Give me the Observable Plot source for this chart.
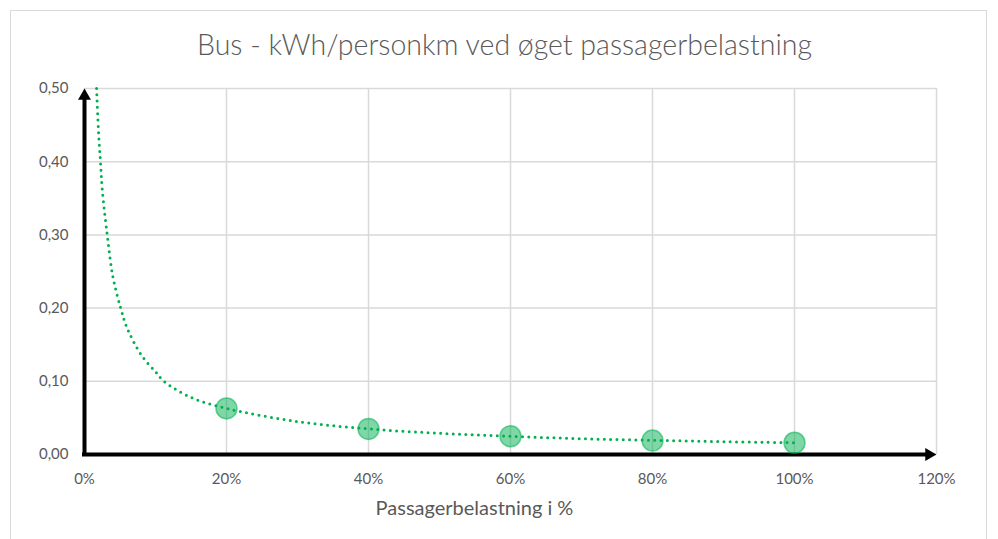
<!DOCTYPE html>
<html><head><meta charset="utf-8">
<script src="https://cdn.jsdelivr.net/npm/d3@7"></script>
<script src="https://cdn.jsdelivr.net/npm/@observablehq/plot@0.6"></script>
<style>
body{margin:0;background:#fff;}
#wrap{position:relative;width:998px;height:539px;overflow:hidden;}
#border{position:absolute;left:10px;top:10px;width:975px;height:600px;border:1.5px solid #d9d9d9;}
#chart{position:absolute;left:0;top:0;}
</style></head><body>
<div id="wrap"><div id="border"></div><div id="chart"></div></div>
<script>
const title = "Bus - kWh/personkm ved øget passagerbelastning";
const xTitle = "Passagerbelastning i %";
const xPct = [20, 40, 60, 80, 100];
const kwh = [0.063, 0.035, 0.025, 0.019, 0.016];
// dotted trend line
const trendX = [1.7, 2, 2.25, 2.5, 3.2, 4, 5.1, 6, 8, 10, 11.2, 15, 20, 30, 40, 50, 60, 70, 80, 90, 100];
const trendY = [0.50, 0.436, 0.40, 0.362, 0.30, 0.243, 0.20, 0.173, 0.136, 0.113, 0.10, 0.078, 0.063, 0.045, 0.035, 0.029, 0.025, 0.0215, 0.0195, 0.0175, 0.0162];
const xTicks = [0, 20, 40, 60, 80, 100, 120];
const yTicks = [0, 0.1, 0.2, 0.3, 0.4, 0.5];

const points = xPct.map((x, i) => ({x, y: kwh[i]}));
const trend = trendX.map((x, i) => ({x, y: trendY[i]}));
const xMax = xTicks[xTicks.length - 1];
const yMax = yTicks[yTicks.length - 1];

const chart = Plot.plot({
  width: 998, height: 539,
  marginLeft: 84, marginRight: 62, marginTop: 88, marginBottom: 85,
  style: {fontFamily: "Lato", fontSize: "15px", color: "#595959", background: "transparent", overflow: "visible"},
  x: {domain: [0, xMax]},
  y: {domain: [0, yMax]},
  marks: [
    Plot.ruleX(xTicks, {stroke: "#d9d9d9", strokeWidth: 1.5}),
    Plot.ruleY(yTicks, {stroke: "#d9d9d9", strokeWidth: 1.5}),
    Plot.axisX(xTicks, {tickFormat: d => d + "%", tickSize: 0, tickPadding: 19, fontSize: 15, fill: "#595959", label: null}),
    Plot.axisY(yTicks, {tickFormat: d => d.toFixed(2).replace(".", ","), tickSize: 0, tickPadding: 16, fontSize: 15, fill: "#595959", label: null}),
    Plot.ruleX([0], {stroke: "black", strokeWidth: 4, insetTop: 10, insetBottom: -2}),
    Plot.ruleY([0], {stroke: "black", strokeWidth: 4, insetRight: 10, insetLeft: -2}),
    Plot.dot([{x: 0, y: yMax}], {x: "x", y: "y", symbol: "triangle", r: 4.8, fill: "black", stroke: "none", dy: 7.5}),
    Plot.dot([{x: xMax, y: 0}], {x: "x", y: "y", symbol: "triangle", r: 4.8, fill: "black", stroke: "none", rotate: 90, dx: -7.5}),
    Plot.dot(points, {x: "x", y: "y", r: 10.5, fill: "#00b050", fillOpacity: 0.5, stroke: "#00b050", strokeOpacity: 0.55, strokeWidth: 1.5}),
    Plot.line(trend, {x: "x", y: "y", curve: "catmull-rom", stroke: "#00b050", strokeWidth: 3, strokeLinecap: "round", strokeDasharray: "0 6.3"}),
    Plot.text([title], {text: d => d, frameAnchor: "top", dx: -6, dy: -43, lineAnchor: "middle", fontSize: 28.5, fontWeight: 300, fill: "#595959"}),
    Plot.text([xTitle], {text: d => d, frameAnchor: "bottom", dx: -36, dy: 54, lineAnchor: "middle", fontSize: 20, fill: "#595959"})
  ]
});
document.getElementById("chart").appendChild(chart);
</script>
</body></html>
